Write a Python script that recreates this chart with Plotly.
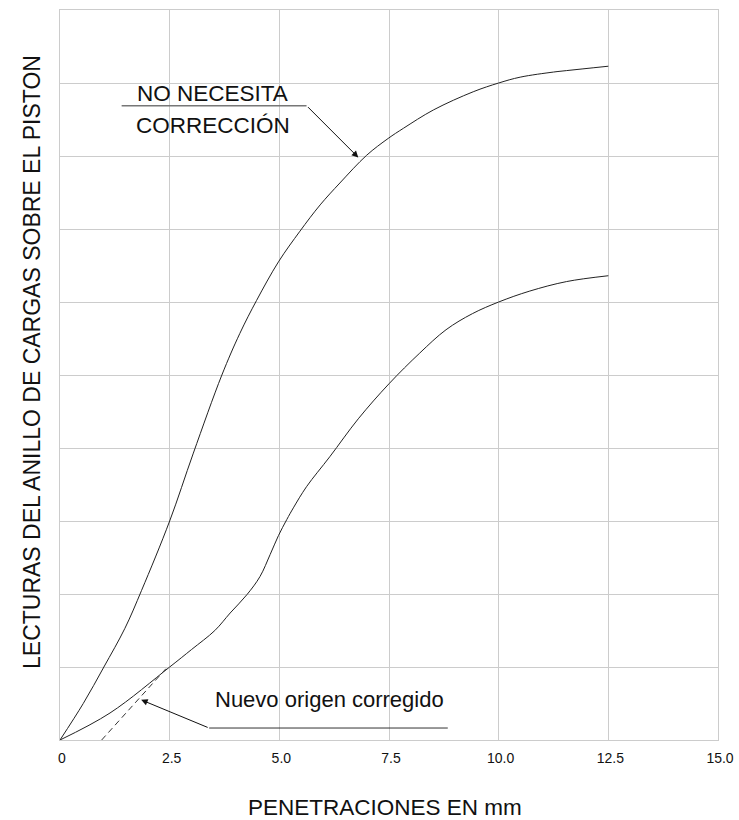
import plotly.graph_objects as go

# ---- Data ----
upper_x = [0, 0.53, 1.0, 1.48, 1.86, 2.5, 3.04, 3.69, 4.1, 4.48, 4.98, 5.47, 5.93, 6.38,
           6.99, 7.48, 7.83, 8.51, 9.42, 10.0, 10.49, 11.25, 11.55, 12.5]
upper_y = [0, 0.50, 1.0, 1.53, 2.05, 3.0, 3.93, 5.0, 5.57, 6.02, 6.55, 6.97, 7.33, 7.63,
           8.01, 8.24, 8.38, 8.63, 8.88, 9.0, 9.08, 9.15, 9.17, 9.23]

lower_x = [0, 1.14, 2.5, 3.0, 3.53, 3.88, 4.26, 4.56, 4.79, 4.98, 5.17, 5.32, 5.62, 6.15,
           6.8, 7.5, 8.2, 8.8, 9.4, 10.0, 10.71, 11.55, 12.5]
lower_y = [0, 0.37, 1.0, 1.24, 1.5, 1.74, 1.99, 2.24, 2.54, 2.80, 3.02, 3.18, 3.47, 3.88,
           4.4, 4.88, 5.3, 5.62, 5.84, 6.0, 6.15, 6.28, 6.36]

dashed_x = [0.95, 2.45]
dashed_y = [0.0, 1.0]

x_tick_values = [0, 2.5, 5.0, 7.5, 10.0, 12.5, 15.0]
x_tick_labels = ["0", "2.5", "5.0", "7.5", "10.0", "12.5", "15.0"]

FONT = "Arial, 'Liberation Sans', sans-serif"
GRID = "#cccccc"

fig = go.Figure()
fig.add_trace(go.Scatter(x=upper_x, y=upper_y, mode="lines",
                         line=dict(color="#222222", width=1, shape="spline", smoothing=1.0),
                         hoverinfo="skip", showlegend=False))
fig.add_trace(go.Scatter(x=lower_x, y=lower_y, mode="lines",
                         line=dict(color="#222222", width=1, shape="spline", smoothing=1.0),
                         hoverinfo="skip", showlegend=False))
fig.add_trace(go.Scatter(x=dashed_x, y=dashed_y, mode="lines",
                         line=dict(color="#333333", width=1, dash="6px,4px"),
                         hoverinfo="skip", showlegend=False))

# leader lines
fig.add_shape(type="line", xref="x", yref="y", x0=1.405, y0=8.69, x1=5.62, y1=8.69,
              line=dict(color="#777777", width=1.5))
fig.add_shape(type="line", xref="x", yref="y", x0=3.40, y0=0.164, x1=8.84, y1=0.164,
              line=dict(color="#333333", width=1))

annotations = [
    dict(x=6.80, y=7.98, ax=5.62, ay=8.69, xref="x", yref="y", axref="x", ayref="y",
         text="", showarrow=True, arrowhead=2, arrowsize=1.3, arrowwidth=1, arrowcolor="#111111"),
    dict(x=1.85, y=0.55, ax=3.40, ay=0.164, xref="x", yref="y", axref="x", ayref="y",
         text="", showarrow=True, arrowhead=2, arrowsize=1.3, arrowwidth=1, arrowcolor="#111111"),
    dict(x=3.476, y=8.86, xref="x", yref="y", text="NO NECESITA", showarrow=False,
         font=dict(family=FONT, size=22.5, color="#111111"), xanchor="center", yanchor="middle"),
    dict(x=3.49, y=8.42, xref="x", yref="y", text="CORRECCIÓN", showarrow=False,
         font=dict(family=FONT, size=22.5, color="#111111"), xanchor="center", yanchor="middle"),
    dict(x=6.15, y=0.56, xref="x", yref="y", text="Nuevo origen corregido", showarrow=False,
         font=dict(family=FONT, size=22, color="#111111"), xanchor="center", yanchor="middle"),
    dict(x=(384.5 - 60) / 658, y=(740 - 807.5) / 730, xref="paper", yref="paper",
         text="PENETRACIONES EN mm", showarrow=False,
         font=dict(family=FONT, size=22.5, color="#111111"), xanchor="center", yanchor="middle"),
    dict(x=(32 - 60) / 658, y=(740 - 362) / 730, xref="paper", yref="paper",
         text="LECTURAS DEL ANILLO DE CARGAS SOBRE EL PISTON", showarrow=False, textangle=-90,
         font=dict(family=FONT, size=23, color="#111111"), xanchor="center", yanchor="middle"),
]

fig.update_layout(
    width=739, height=820,
    margin=dict(l=60, r=21, t=10, b=80),
    paper_bgcolor="white", plot_bgcolor="white",
    annotations=annotations,
    xaxis=dict(range=[0, 15], tickvals=x_tick_values, ticktext=x_tick_labels,
               showgrid=True, gridcolor=GRID, gridwidth=1, zeroline=False,
               showline=True, linecolor=GRID, mirror=True, ticks="",
               tickfont=dict(family=FONT, size=14, color="#111111"),
               ticklabelshift=2, ticklabelstandoff=5, ticklabeloverflow="allow",
               automargin=False, fixedrange=True),
    yaxis=dict(range=[0, 10], dtick=1, showticklabels=False,
               showgrid=True, gridcolor=GRID, gridwidth=1, zeroline=False,
               showline=True, linecolor=GRID, mirror=True, ticks="", automargin=False,
               fixedrange=True),
)

# remove the browser's default 8px body margin so the 739x820 figure fills the window exactly
fig.write_html("out.html", config={"displayModeBar": False},
               post_script="document.body.style.margin='0';document.body.style.overflow='hidden';")
